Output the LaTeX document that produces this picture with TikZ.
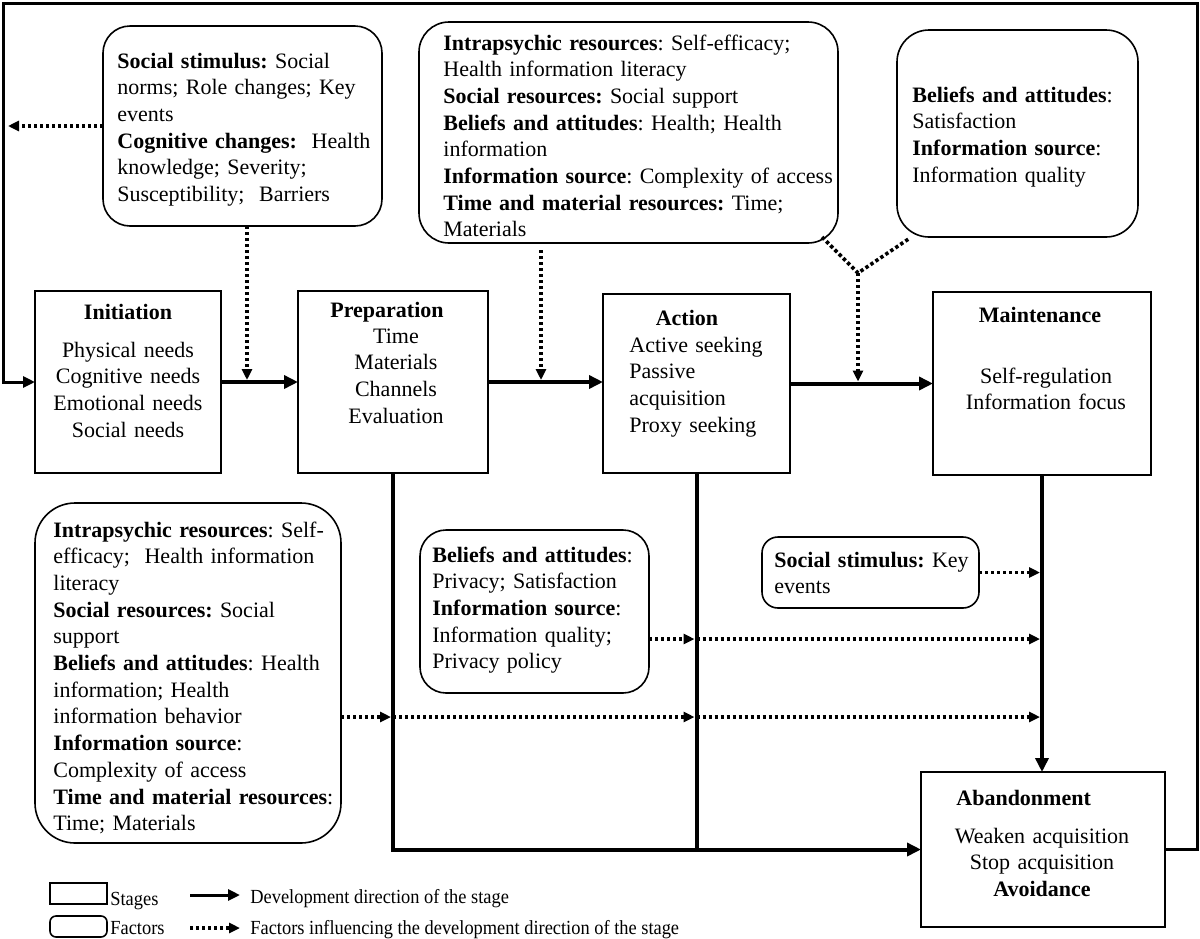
\documentclass[tikz,border=0pt]{standalone}
\usepackage{fontspec}
\setmainfont{Liberation Serif}
\newfontfamily\legfont[FakeStretch=0.92]{Liberation Serif}
\usetikzlibrary{arrows.meta,calc}
\begin{document}
\frenchspacing
\begin{tikzpicture}[x=0.5pt,y=-0.5pt,
  stage/.style={draw, line width=0.8pt, inner sep=0pt, outer sep=0pt},
  factor/.style={draw, line width=0.8pt, inner sep=0pt, outer sep=0pt},
  txt/.style={anchor=base west, inner sep=0pt, text width=230pt, align=left, font=\fontsize{11}{13.35}\selectfont\frenchspacing},
  ctxt/.style={anchor=base, inner sep=0pt, text width=120pt, align=center, font=\fontsize{11}{13.35}\selectfont\frenchspacing},
  ttl/.style={anchor=base, inner sep=0pt, font=\fontsize{11}{13.35}\selectfont\bfseries},
  legtxt/.style={anchor=base west, inner sep=0pt, font=\legfont\fontsize{10}{12}\selectfont},
  devarrow/.style={line width=2pt, -{Triangle[length=7pt,width=6.5pt]}},
  looparrow/.style={line width=1.5pt, -{Triangle[length=6pt,width=5.5pt]}},
  devline/.style={line width=2pt},
  facarrow/.style={line width=1.8pt, dash pattern=on 1.7pt off 1.3pt, -{Triangle[length=5.5pt,width=5pt]}},
  facline/.style={line width=1.8pt, dash pattern=on 1.7pt off 1.3pt}
]
\useasboundingbox (0,0) rectangle (1200,938);

% ---------- stages ----------
\node[stage, minimum width=93pt, minimum height=91pt] (init) at (128,382) {};
\node[stage, minimum width=95pt, minimum height=91pt] (prep) at (393,382) {};
\node[stage, minimum width=93.5pt, minimum height=89.5pt] (action) at (696.5,383.5) {};
\node[stage, minimum width=109pt, minimum height=91.5pt] (maint) at (1042,383.5) {};
\node[stage, minimum width=122pt, minimum height=77.5pt] (aband) at (1043,849.5) {};

\node[ttl] (initT) at (128,319) {Initiation};
\node[ctxt] (initL) at (128,357) {Physical needs\\Cognitive needs\\Emotional needs\\Social needs};
\node[ttl] (prepT) at (387,317) {Preparation};
\node[ctxt] (prepL) at (396,343) {Time\\Materials\\Channels\\Evaluation};
\node[ttl] (actT) at (687,325) {Action};
\node[txt] (actL) at (629,352) {Active seeking\\Passive\\acquisition\\Proxy seeking};
\node[ttl] (maintT) at (1040,322) {Maintenance};
\node[ctxt] (maintL) at (1046,383) {Self-regulation\\Information focus};
\node[ttl, anchor=base west] (abandT) at (956,805) {Abandonment};
\node[ctxt] (abandL) at (1042,843) {Weaken acquisition\\Stop acquisition\\\textbf{Avoidance}};

% ---------- factors ----------
\node[factor, rounded corners=13.5pt, minimum width=139.5pt, minimum height=100pt] (f1) at (242.5,126) {};
\node[factor, rounded corners=15pt, minimum width=209.5pt, minimum height=110.5pt] (f2) at (628.5,132.5) {};
\node[factor, rounded corners=16pt, minimum width=120.5pt, minimum height=103.5pt] (f3) at (1017.5,133.5) {};
\node[factor, rounded corners=20pt, minimum width=153pt, minimum height=170pt] (f4) at (188,673) {};
\node[factor, rounded corners=13pt, minimum width=114.5pt, minimum height=81.5pt] (f5) at (534.5,611.5) {};
\node[factor, rounded corners=8pt, minimum width=108.5pt, minimum height=35.5pt] (f6) at (870.5,572.5) {};

\node[txt] (f1t) at (117,68) {\textbf{Social stimulus:} Social\\norms; Role changes; Key\\events\\\textbf{Cognitive changes:}\ \ Health\\knowledge; Severity;\\Susceptibility;\ \ Barriers};
\node[txt] (f2t) at (443,50) {\textbf{Intrapsychic resources}: Self-efficacy;\\Health information literacy\\\textbf{Social resources:} Social support\\\textbf{Beliefs and attitudes}: Health; Health\\information\\\textbf{Information source}: Complexity of access\\\textbf{Time and material resources:} Time;\\Materials};
\node[txt] (f3t) at (912,102) {\textbf{Beliefs and attitudes}:\\Satisfaction\\\textbf{Information source}:\\Information quality};
\node[txt] (f4t) at (53,537) {\textbf{Intrapsychic resources}: Self-\\efficacy;\ \ Health information\\literacy\\\textbf{Social resources:} Social\\support\\\textbf{Beliefs and attitudes}: Health\\information; Health\\information behavior\\\textbf{Information source}:\\Complexity of access\\\textbf{Time and material resources}:\\Time; Materials};
\node[txt] (f5t) at (432,562) {\textbf{Beliefs and attitudes}:\\Privacy; Satisfaction\\\textbf{Information source}:\\Information quality;\\Privacy policy};
\node[txt] (f6t) at (774,567) {\textbf{Social stimulus:} Key\\events};

% ---------- development arrows ----------
\draw[devarrow] (init.east) -- (prep.west);
\draw[devarrow] (prep.east) -- (prep.east -| action.west);
\draw[devarrow] (action.east) -- (maint.west);
\draw[devarrow] (maint.south) -- (maint.south |- aband.north);
\draw[devarrow] (prep.south) |- (aband.west);
\draw[devline] (action.south) -- (action.south |- aband.west);
\coordinate (cTR) at (1197,3);
\coordinate (cTL) at (3,3);
\draw[looparrow] (aband.east) -| (cTR) -- (cTL) |- (init.west);

% ---------- factor arrows ----------
\coordinate (lft) at (8,126);
\draw[facarrow] (f1.west) -- (lft);
\coordinate (f1b) at (247,226);
\draw[facarrow, shorten >=1pt] (f1b) -- (f1b |- init.east);
\coordinate (f2b) at (541,250);
\draw[facarrow, shorten >=1pt] (f2b) -- (f2b |- prep.east);
\coordinate (vA) at (822,237);
\coordinate (vB) at (910,238);
\coordinate (vJ) at (858,273);
\draw[facline] (vA) -- (vJ) -- (vB);
\draw[facarrow, shorten >=1pt] (vJ) -- (vJ |- maint.west);

\coordinate (y717) at (0,717);
\draw[facarrow, shorten >=1pt] (f4.east |- y717) -- (prep.south |- y717);
\draw[facarrow, shorten >=1pt] (prep.south |- y717) -- (action.south |- y717);
\draw[facarrow, shorten >=1pt] (action.south |- y717) -- (maint.south |- y717);
\coordinate (y639) at (0,639);
\draw[facarrow, shorten >=1pt] (f5.east |- y639) -- (action.south |- y639);
\draw[facarrow, shorten >=1pt] (action.south |- y639) -- (maint.south |- y639);
\draw[facarrow, shorten >=1pt] (f6.east) -- (maint.south |- f6.east);

% ---------- legend ----------
\node[stage, minimum width=28.5pt, minimum height=10.5pt] (legS) at (78.5,893.5) {};
\node[legtxt] (legSt) at (110,905) {Stages};
\node[factor, rounded corners=3pt, minimum width=28.5pt, minimum height=10.5pt] (legF) at (78.5,926.5) {};
\node[legtxt] (legFt) at (110,934) {Factors};
\coordinate (la1) at (190,895);
\coordinate (la2) at (240,895);
\draw[line width=1.5pt, -{Triangle[length=6pt,width=5.5pt]}] (la1) -- (la2);
\coordinate (lb1) at (190,928);
\coordinate (lb2) at (240,928);
\draw[facarrow] (lb1) -- (lb2);
\node[legtxt] (legD) at (250,903) {Development direction of the stage};
\node[legtxt] (legI) at (250,934) {Factors influencing the development direction of the stage};
\end{tikzpicture}
\end{document}
